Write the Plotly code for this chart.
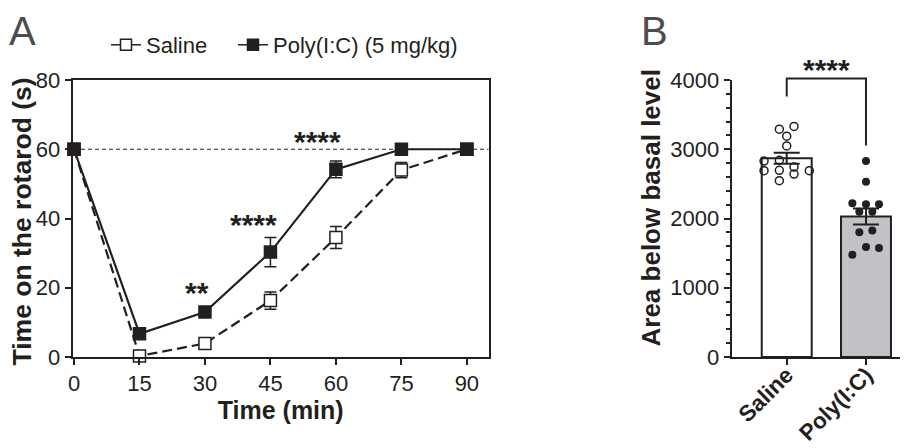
import plotly.graph_objects as go

# ---------------- Data ----------------
time_min = [0, 15, 30, 45, 60, 75, 90]
saline_mean = [60, 0.3, 3.9, 16.3, 34.5, 54.0, 60]
saline_sem = [0, 0, 0.6, 2.5, 3.2, 2.2, 0]
polyic_mean = [60, 6.7, 13.0, 30.3, 54.2, 60, 60]
polyic_sem = [0, 0.8, 1.5, 4.2, 2.4, 0, 0]
basal_level = 60

sig_labels_A = ["**", "****", "****"]
sig_x_A = [28.1, 41.1, 55.8]
sig_y_A = [18.5, 38.2, 62.3]

groups_B = ["Saline", "Poly(I:C)"]
group_pos_B = [0, 1]
bar_mean_B = [2870, 2030]
bar_sem_B = [78, 115]
saline_auc = [3290, 3329, 3188, 3048, 2830, 2841, 2691, 2696, 2743, 2642, 2691, 2546]
saline_jitter = [-0.093, 0.092, 0, 0, -0.286, -0.093, -0.286, -0.093, 0.092, 0.092, 0.285, -0.093]
polyic_auc = [2830, 2532, 2222, 2207, 2207, 2097, 2097, 1801, 1826, 1590, 1575, 1478]
polyic_jitter = [0, 0, -0.172, 0, 0.164, -0.084, 0.08, -0.084, 0.08, 0, 0.164, -0.172]
bracket_y_B = [3760, 4020, 4020, 3055]
bracket_label_y_B = 4150

FONT = "Liberation Sans, Arial, sans-serif"
INK = "#231f20"
OFF = 8                      # page body margin
WIN_W, WIN_H = 908, 448
W, H = WIN_W - OFF, WIN_H - OFF
PLOT_TOP, PLOT_BOT = 80, 357  # window pixels
MT, MB = PLOT_TOP - OFF, WIN_H - PLOT_BOT
PH = PLOT_BOT - PLOT_TOP

def px(x):  # window x pixel -> paper fraction
    return (x - OFF) / W

def py(y):  # window y pixel -> paper fraction
    return (PLOT_BOT - y) / PH

XR_A = [-0.3, 95]
YR_A = [0, 80]
XR_B = [-0.694, 1.53]
YR_B = [0, 4000]

def xdomB(v):
    return (v - XR_B[0]) / (XR_B[1] - XR_B[0])

def ydomB(v):
    return (v - YR_B[0]) / (YR_B[1] - YR_B[0])

fig = go.Figure()

# ---- Panel A ----
fig.add_trace(go.Scatter(
    x=time_min, y=saline_mean, mode="lines+markers",
    line=dict(color=INK, width=2.2, dash="10px,5px"),
    marker=dict(symbol="square", size=12, color="white", line=dict(color=INK, width=1.5)),
    error_y=dict(type="data", array=saline_sem, color=INK, thickness=1.5, width=6),
    xaxis="x", yaxis="y", showlegend=False, cliponaxis=False))
fig.add_trace(go.Scatter(
    x=time_min, y=polyic_mean, mode="lines+markers",
    line=dict(color=INK, width=2.2),
    marker=dict(symbol="square", size=12, color=INK, line=dict(color=INK, width=1.5)),
    error_y=dict(type="data", array=polyic_sem, color=INK, thickness=1.5, width=6),
    xaxis="x", yaxis="y", showlegend=False, cliponaxis=False))
# legend entries
fig.add_trace(go.Scatter(
    x=[None], y=[None], mode="lines+markers", name="Saline", legend="legend",
    line=dict(color=INK, width=1.5),
    marker=dict(symbol="square", size=11, color="white", line=dict(color=INK, width=1.5)),
    xaxis="x", yaxis="y"))
fig.add_trace(go.Scatter(
    x=[None], y=[None], mode="lines+markers", name="Poly(I:C) (5 mg/kg)", legend="legend2",
    line=dict(color=INK, width=1.5),
    marker=dict(symbol="square", size=11, color=INK, line=dict(color=INK, width=1.5)),
    xaxis="x", yaxis="y"))

# ---- Panel B ----
fig.add_trace(go.Bar(
    x=group_pos_B, y=bar_mean_B, width=0.63,
    marker=dict(color=["white", "#c1c2c6"], line=dict(color=INK, width=2)),
    error_y=dict(type="data", array=bar_sem_B, color=INK, thickness=2, width=13),
    xaxis="x2", yaxis="y2", showlegend=False))
fig.add_trace(go.Scatter(
    x=[group_pos_B[0] + j for j in saline_jitter], y=saline_auc, mode="markers",
    marker=dict(symbol="circle-open", size=8, color=INK, line=dict(width=1.5)),
    xaxis="x2", yaxis="y2", showlegend=False))
fig.add_trace(go.Scatter(
    x=[group_pos_B[1] + j for j in polyic_jitter], y=polyic_auc, mode="markers",
    marker=dict(symbol="circle", size=8, color=INK),
    xaxis="x2", yaxis="y2", showlegend=False))

bx0, bx1 = xdomB(group_pos_B[0]), xdomB(group_pos_B[1])
by = [ydomB(v) for v in bracket_y_B]
shapes = [
    dict(type="line", xref="x", yref="y", x0=0, x1=XR_A[1], y0=basal_level, y1=basal_level,
         line=dict(color=INK, width=1.2, dash="4px,3px"), layer="below"),
    dict(type="path", xref="x2 domain", yref="y2 domain",
         path=f"M {bx0},{by[0]} L {bx0},{by[1]} L {bx1},{by[2]} L {bx1},{by[3]}",
         line=dict(color=INK, width=2)),
]

annotations = []
for lab, xx, yy in zip(sig_labels_A, sig_x_A, sig_y_A):
    annotations.append(dict(text=f"<b>{lab}</b>", x=xx, y=yy, xref="x", yref="y",
                            showarrow=False, font=dict(family=FONT, size=30, color=INK),
                            yanchor="middle"))
annotations.append(dict(text="<b>****</b>", x=0.5, y=ydomB(bracket_label_y_B), xref="x2", yref="y2 domain",
                        showarrow=False, font=dict(family=FONT, size=30, color=INK), yanchor="middle"))
annotations.append(dict(text="A", x=px(8), y=py(OFF), xref="paper", yref="paper",
                        xanchor="left", yanchor="top", showarrow=False, borderpad=0,
                        font=dict(family=FONT, size=40, color="#4d4d4d")))
annotations.append(dict(text="B", x=px(640), y=py(OFF), xref="paper", yref="paper",
                        xanchor="left", yanchor="top", showarrow=False, borderpad=0,
                        font=dict(family=FONT, size=40, color="#4d4d4d")))
annotations.append(dict(text="<b>Time on the rotarod (s)</b>", x=px(22), y=py(221.5),
                        xref="paper", yref="paper", textangle=-90, showarrow=False,
                        xanchor="center", yanchor="middle",
                        font=dict(family=FONT, size=26.5, color=INK)))
annotations.append(dict(text="<b>Area below basal level</b>", x=px(650), y=py(208.5),
                        xref="paper", yref="paper", textangle=-90, showarrow=False,
                        xanchor="center", yanchor="middle",
                        font=dict(family=FONT, size=26, color=INK)))

axis_common = dict(showgrid=False, zeroline=False, showline=True, linecolor=INK, linewidth=2,
                   ticks="outside", ticklen=6, tickwidth=2, tickcolor=INK,
                   tickfont=dict(family=FONT, size=22, color=INK), automargin=False)

legend_common = dict(orientation="h", xanchor="left", yanchor="middle", xref="paper", yref="paper",
                     font=dict(family=FONT, size=22, color=INK), bgcolor="rgba(0,0,0,0)",
                     itemwidth=30)

fig.update_layout(
    width=W, height=H,
    margin=dict(l=0, r=0, t=MT, b=MB, autoexpand=False),
    paper_bgcolor="white", plot_bgcolor="white",
    font=dict(family=FONT, color=INK),
    xaxis=dict(domain=[px(72.7), px(488.7)], range=XR_A, tickvals=time_min,
               mirror=True, anchor="y",
               title=dict(text="<b>Time (min)</b>", font=dict(family=FONT, size=25, color=INK), standoff=6),
               **axis_common),
    yaxis=dict(domain=[0, 1], range=YR_A, dtick=20, mirror=True, anchor="x",
               **axis_common),
    xaxis2=dict(domain=[px(731.7), 1.0], range=XR_B, tickvals=group_pos_B,
                ticktext=[f"<b>{g}</b>" for g in groups_B], tickangle=-45, anchor="y2",
                ticklabelstandoff=-12,
                **{**axis_common, "tickfont": dict(family=FONT, size=22.5, color=INK)}),
    yaxis2=dict(domain=[0, 1], range=YR_B, dtick=1000, anchor="x2",
                minor=dict(dtick=200, ticks="outside", ticklen=4, tickwidth=2, tickcolor=INK),
                **axis_common),
    legend=dict(x=px(106), y=py(45), **legend_common),
    legend2=dict(x=px(233), y=py(45), **legend_common),
    shapes=shapes, annotations=annotations,
)

fig.write_html("out.html")
